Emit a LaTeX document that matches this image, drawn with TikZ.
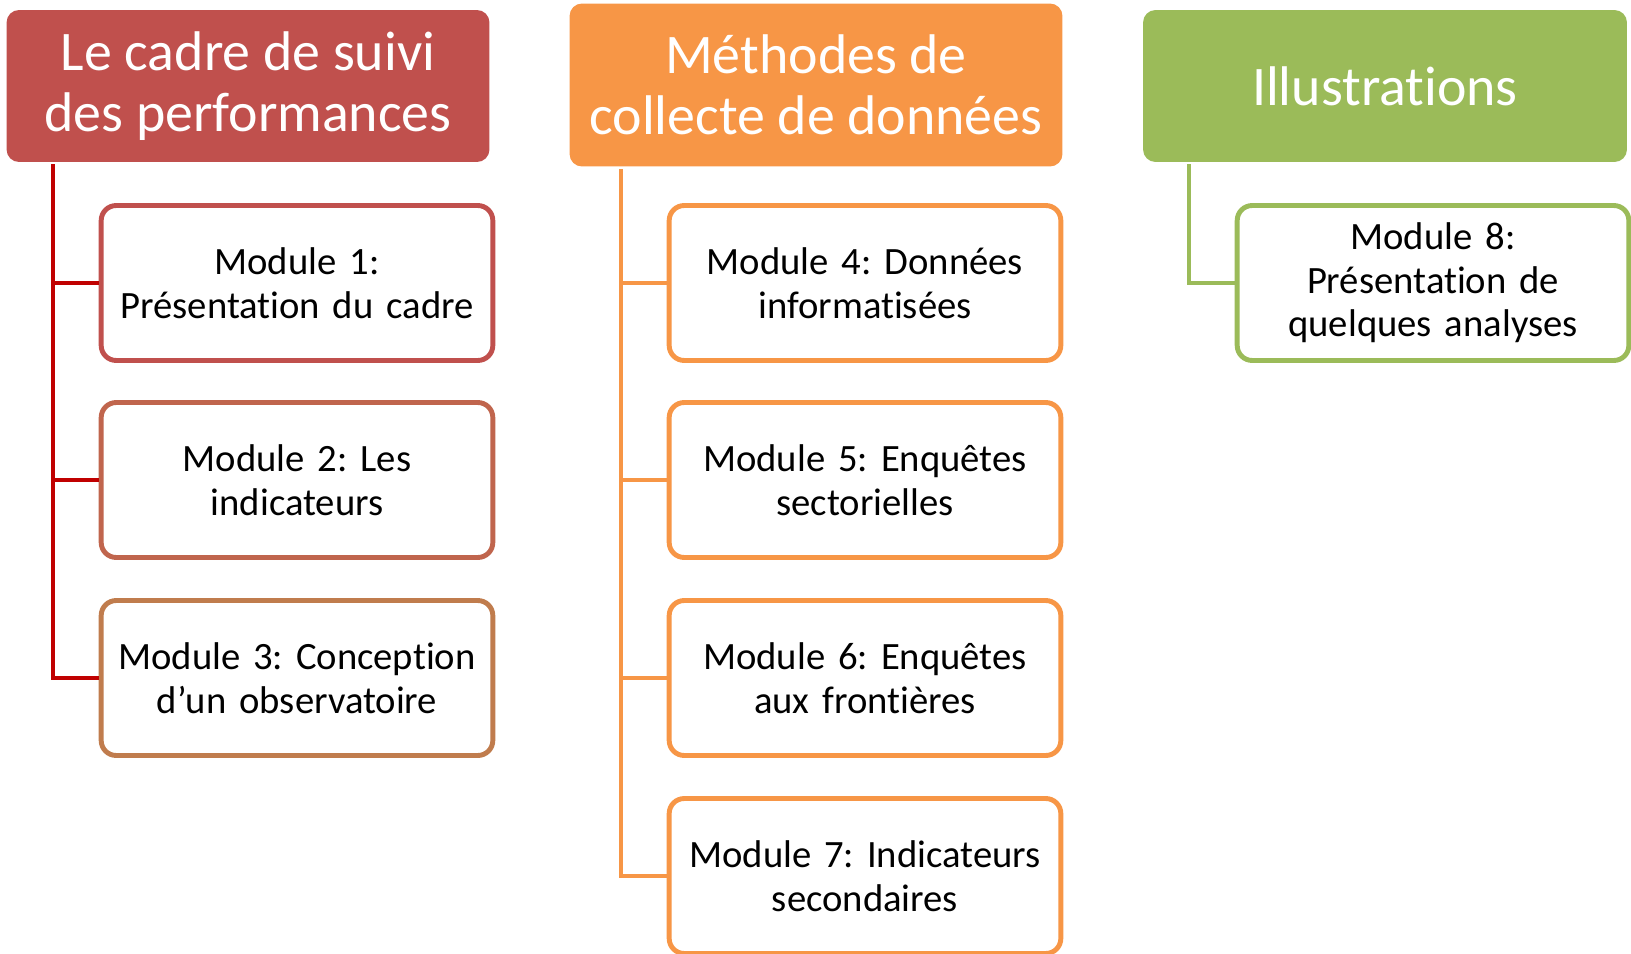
\documentclass[tikz,border=0pt]{standalone}
\usepackage{fontspec}
\setmainfont[Ligatures=NoCommon]{Carlito}
\usepackage{tikz}
\definecolor{rouge}{HTML}{C0504D}
\definecolor{rougefonce}{HTML}{C00000}
\definecolor{brique}{HTML}{C0654D}
\definecolor{cuivre}{HTML}{C07C4D}
\definecolor{orange}{HTML}{F79646}
\definecolor{vert}{HTML}{9BBB59}
\frenchspacing

\begin{document}
\begin{tikzpicture}[x=0.02cm,y=-0.02cm]
\tikzset{titre/.style={fill=#1, draw=none, rounded corners=0.25cm, text=white,
  align=center, minimum width=9.66cm, minimum height=3.04cm,
  font=\fontsize{31.8}{34.4}\selectfont},
  module/.style={draw=#1, fill=white, line width=2.8pt, rounded corners=0.3cm,
  align=center, minimum width=7.8cm, minimum height=3.1cm, text width=7.6cm,
  font=\fontsize{22}{24.8}\selectfont},
  lien/.style={draw=#1, line width=2.4pt}}
\useasboundingbox (0,0) rectangle (1631,953);
% les trois titres
\node [titre=rouge] (t1) at (248,86) {Le cadre de suivi\\des performances};
\node [titre=orange, minimum width=9.86cm, minimum height=3.26cm] (t2) at (816,85) {M\'ethodes de\\collecte de donn\'ees};
\node [titre=vert, minimum width=9.68cm] (t3) at (1385,86) {Illustrations};
% les modules
\node [module=rouge] (m1) at (297,283) {Module 1:\\Pr\'esentation du cadre};
\node [module=brique] (m2) at (297,480) {Module 2: Les\\indicateurs};
\node [module=cuivre] (m3) at (297,678) {Module 3: Conception\\d'un observatoire};
\node [module=orange] (m4) at (865,283) {Module 4: Donn\'ees\\informatis\'ees};
\node [module=orange] (m5) at (865,480) {Module 5: Enqu\^etes\\sectorielles};
\node [module=orange] (m6) at (865,678) {Module 6: Enqu\^etes\\aux fronti\`eres};
\node [module=orange] (m7) at (865,876) {Module 7: Indicateurs\\secondaires};
\node [module=vert] (m8) at (1433,283) {Module 8:\\Pr\'esentation de\\quelques analyses};
% les liens
\coordinate (r1) at (53,164);
\coordinate (r2) at (621,169);
\coordinate (r3) at (1189,164);
\draw [lien=rougefonce] (r1) |- (m1.west) (r1) |- (m2.west) (r1) |- (m3.west);
\draw [lien=orange] (r2) |- (m4.west) (r2) |- (m5.west) (r2) |- (m6.west) (r2) |- (m7.west);
\draw [lien=vert] (r3) |- (m8.west);
\end{tikzpicture}
\end{document}
